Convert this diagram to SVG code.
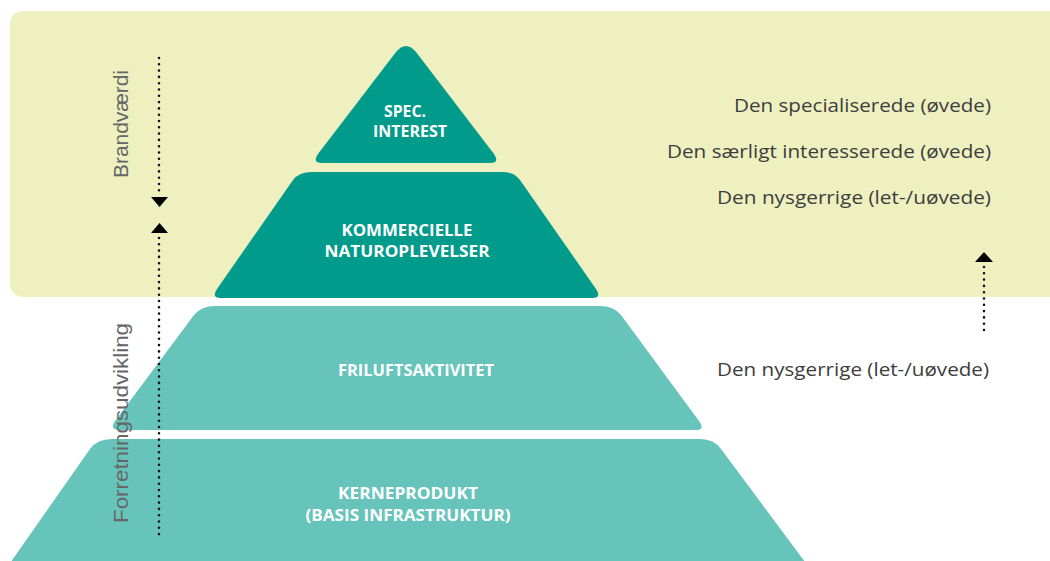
<svg xmlns="http://www.w3.org/2000/svg" width="1050" height="561" viewBox="0 0 1050 561">
<defs>
<style>
.dark{fill:#009b8b}
.light{fill:#67c4bb}
.lbl{font-family:"Open Sans","Liberation Sans",sans-serif;font-weight:700;font-size:15.5px;fill:#ffffff;text-anchor:middle}
.side{font-family:"Open Sans","Liberation Sans",sans-serif;font-size:18px;fill:#3d3d3d;text-anchor:end}
.vert{font-family:"Liberation Sans",Arial,sans-serif;font-size:20px;fill:#666666;text-anchor:middle}
.dots{stroke:#111;stroke-width:2.6;stroke-linecap:round;stroke-dasharray:0 6.3;fill:none}
.head{fill:#000}
</style>
</defs>
<rect x="0" y="0" width="1050" height="561" fill="#ffffff"/>
<rect id="panel" x="10" y="11" width="1060" height="286" rx="13" fill="#eef0c0"/>

<g id="layer-spec">
<path class="dark" d="M 396,52 Q 406,40 416,52 L 494,154 Q 500,163 490,163 L 322,163 Q 312,163 318,154 Z"/>
<text class="lbl" x="405" y="117" textLength="42" lengthAdjust="spacingAndGlyphs">SPEC.</text>
<text class="lbl" x="410" y="137" textLength="74" lengthAdjust="spacingAndGlyphs">INTEREST</text>
</g>

<g id="layer-kommercielle">
<path class="dark" d="M 221,298 Q 211,298 217,289 L 293,180 Q 299,172 312,172 L 503,172 Q 514,172 520,180 L 596,289 Q 602,298 592,298 Z"/>
<text class="lbl" x="407" y="236" textLength="131" lengthAdjust="spacingAndGlyphs">KOMMERCIELLE</text>
<text class="lbl" x="407" y="257" textLength="165" lengthAdjust="spacingAndGlyphs">NATUROPLEVELSER</text>
</g>

<g id="layer-friluft">
<path class="light" d="M 120,430 Q 109,430 115,421 L 194,315 Q 201,306 216,306 L 600,306 Q 614,306 621,315 L 699,421 Q 706,430 695,430 Z"/>
<text class="lbl" x="416" y="376" textLength="156" lengthAdjust="spacingAndGlyphs">FRILUFTSAKTIVITET</text>
</g>

<g id="layer-kerneprodukt">
<path class="light" d="M 8,566 L 90,449 Q 97,439 112,439 L 700,439 Q 714,439 721,449 L 808,566 Z"/>
<text class="lbl" x="408" y="499" textLength="140" lengthAdjust="spacingAndGlyphs">KERNEPRODUKT</text>
<text class="lbl" x="408" y="521" textLength="205" lengthAdjust="spacingAndGlyphs">(BASIS INFRASTRUKTUR)</text>
</g>

<g id="labels-right">
<text class="side" x="991" y="112" textLength="257" lengthAdjust="spacingAndGlyphs">Den specialiserede (øvede)</text>
<text class="side" x="991" y="158" textLength="324" lengthAdjust="spacingAndGlyphs">Den særligt interesserede (øvede)</text>
<text class="side" x="991" y="204" textLength="274" lengthAdjust="spacingAndGlyphs">Den nysgerrige (let-/uøvede)</text>
<text class="side" x="989" y="376" textLength="272" lengthAdjust="spacingAndGlyphs">Den nysgerrige (let-/uøvede)</text>
</g>

<g id="axis-labels">
<text class="vert" transform="translate(128,124) rotate(-90)" textLength="108" lengthAdjust="spacingAndGlyphs">Brandværdi</text>
<text class="vert" transform="translate(128,423) rotate(-90)" textLength="200" lengthAdjust="spacingAndGlyphs">Forretningsudvikling</text>
</g>

<g id="connectors">
<line class="dots" x1="159" y1="58" x2="159" y2="192"/>
<polygon class="head" points="151,197 168,197 159.5,207"/>
<polygon class="head" points="151,233 168,233 159.5,223"/>
<line class="dots" x1="159" y1="238" x2="159" y2="536"/>
<polygon class="head" points="975,262 993,262 984,252"/>
<line class="dots" x1="984" y1="267" x2="984" y2="331"/>
</g>
</svg>
